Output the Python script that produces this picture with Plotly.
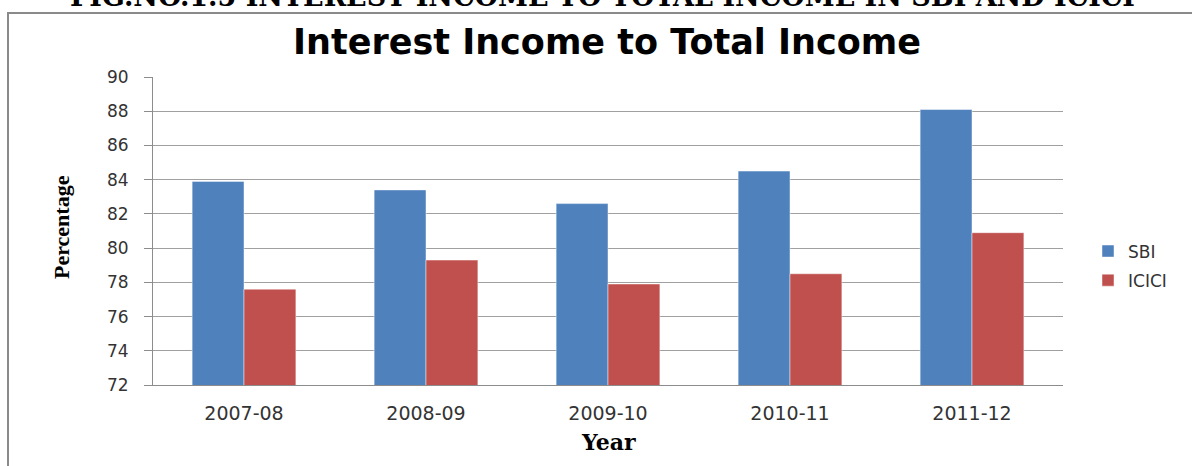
import plotly.graph_objects as go

years = ["2007-08", "2008-09", "2009-10", "2010-11", "2011-12"]
sbi = [83.9, 83.4, 82.6, 84.5, 88.1]
icici = [77.6, 79.3, 77.9, 78.5, 80.9]
y_ticks = [72, 74, 76, 78, 80, 82, 84, 86, 88, 90]

W, H = 1192, 466
L, R, T, B = 153, 1063, 77, 385  # plot area in pixels


def px(x):
    return (x - L) / (R - L)


def py(y):
    return (B - y) / (B - T)


fig = go.Figure()
fig.add_trace(go.Bar(name="SBI", x=years, y=sbi, marker_color="#4F81BD", legendgroup="a",
                     marker_line=dict(color="rgba(255,255,255,0.45)", width=1)))
fig.add_trace(go.Bar(name="ICICI", x=years, y=icici, marker_color="#C0504D", legendgroup="b",
                     marker_line=dict(color="rgba(255,255,255,0.45)", width=1)))

fig.update_layout(
    width=W, height=H,
    margin=dict(l=L, r=W - R, t=T, b=H - B, autoexpand=False),
    paper_bgcolor="white", plot_bgcolor="white",
    barmode="group", bargap=0.43, bargroupgap=0,
    showlegend=True,
    legend=dict(x=px(1088), xanchor="left", y=py(266), yanchor="middle",
                font=dict(family="DejaVu Sans", size=17, color="#333333"),
                bgcolor="rgba(0,0,0,0)", tracegroupgap=4),
    font=dict(family="DejaVu Sans", color="#333333"),
)

fig.update_yaxes(range=[72, 90], tickvals=y_ticks, ticktext=[str(v) for v in y_ticks],
                 showgrid=True, gridcolor="#a0a0a0", gridwidth=1,
                 showline=True, linecolor="#8c8c8c", linewidth=1,
                 ticks="outside", ticklen=8, tickcolor="#8c8c8c",
                 ticklabelstandoff=12,
                 tickfont=dict(family="DejaVu Sans", size=17, color="#333333"),
                 zeroline=False, fixedrange=True)
fig.update_xaxes(type="category", showline=True, linecolor="#8c8c8c", linewidth=1,
                 ticks="", ticklabelstandoff=11,
                 tickfont=dict(family="DejaVu Sans", size=19, color="#333333"),
                 fixedrange=True)

# outer chart border
fig.add_shape(type="rect", xref="paper", yref="paper",
              x0=px(8), x1=px(1210), y0=py(490), y1=py(13),
              line=dict(color="#8a8a8a", width=2), fillcolor="rgba(0,0,0,0)", layer="below")

# header (figure caption, cut off at top as in the source)
fig.add_annotation(text="<b>FIG.NO.1.5 INTEREST INCOME TO TOTAL INCOME IN SBI AND ICICI</b>",
                   xref="paper", yref="paper", x=px(602), y=py(-4), xanchor="center", yanchor="middle",
                   showarrow=False, font=dict(family="DejaVu Serif", size=27, color="black"))

# chart title
fig.add_annotation(text="<b>Interest Income to Total Income</b>",
                   xref="paper", yref="paper", x=px(607), y=py(42), xanchor="center", yanchor="middle",
                   showarrow=False, font=dict(family="DejaVu Sans", size=35, color="black"))

# axis titles
fig.add_annotation(text="<b>Percentage</b>", textangle=-90,
                   xref="paper", yref="paper", x=px(61), y=py(227), xanchor="center", yanchor="middle",
                   showarrow=False, font=dict(family="Liberation Serif", size=22, color="black"))
fig.add_annotation(text="<b>Year</b>",
                   xref="paper", yref="paper", x=px(608), y=py(442), xanchor="center", yanchor="middle",
                   showarrow=False, font=dict(family="DejaVu Serif", size=22, color="black"))

fig.write_html("out.html")
